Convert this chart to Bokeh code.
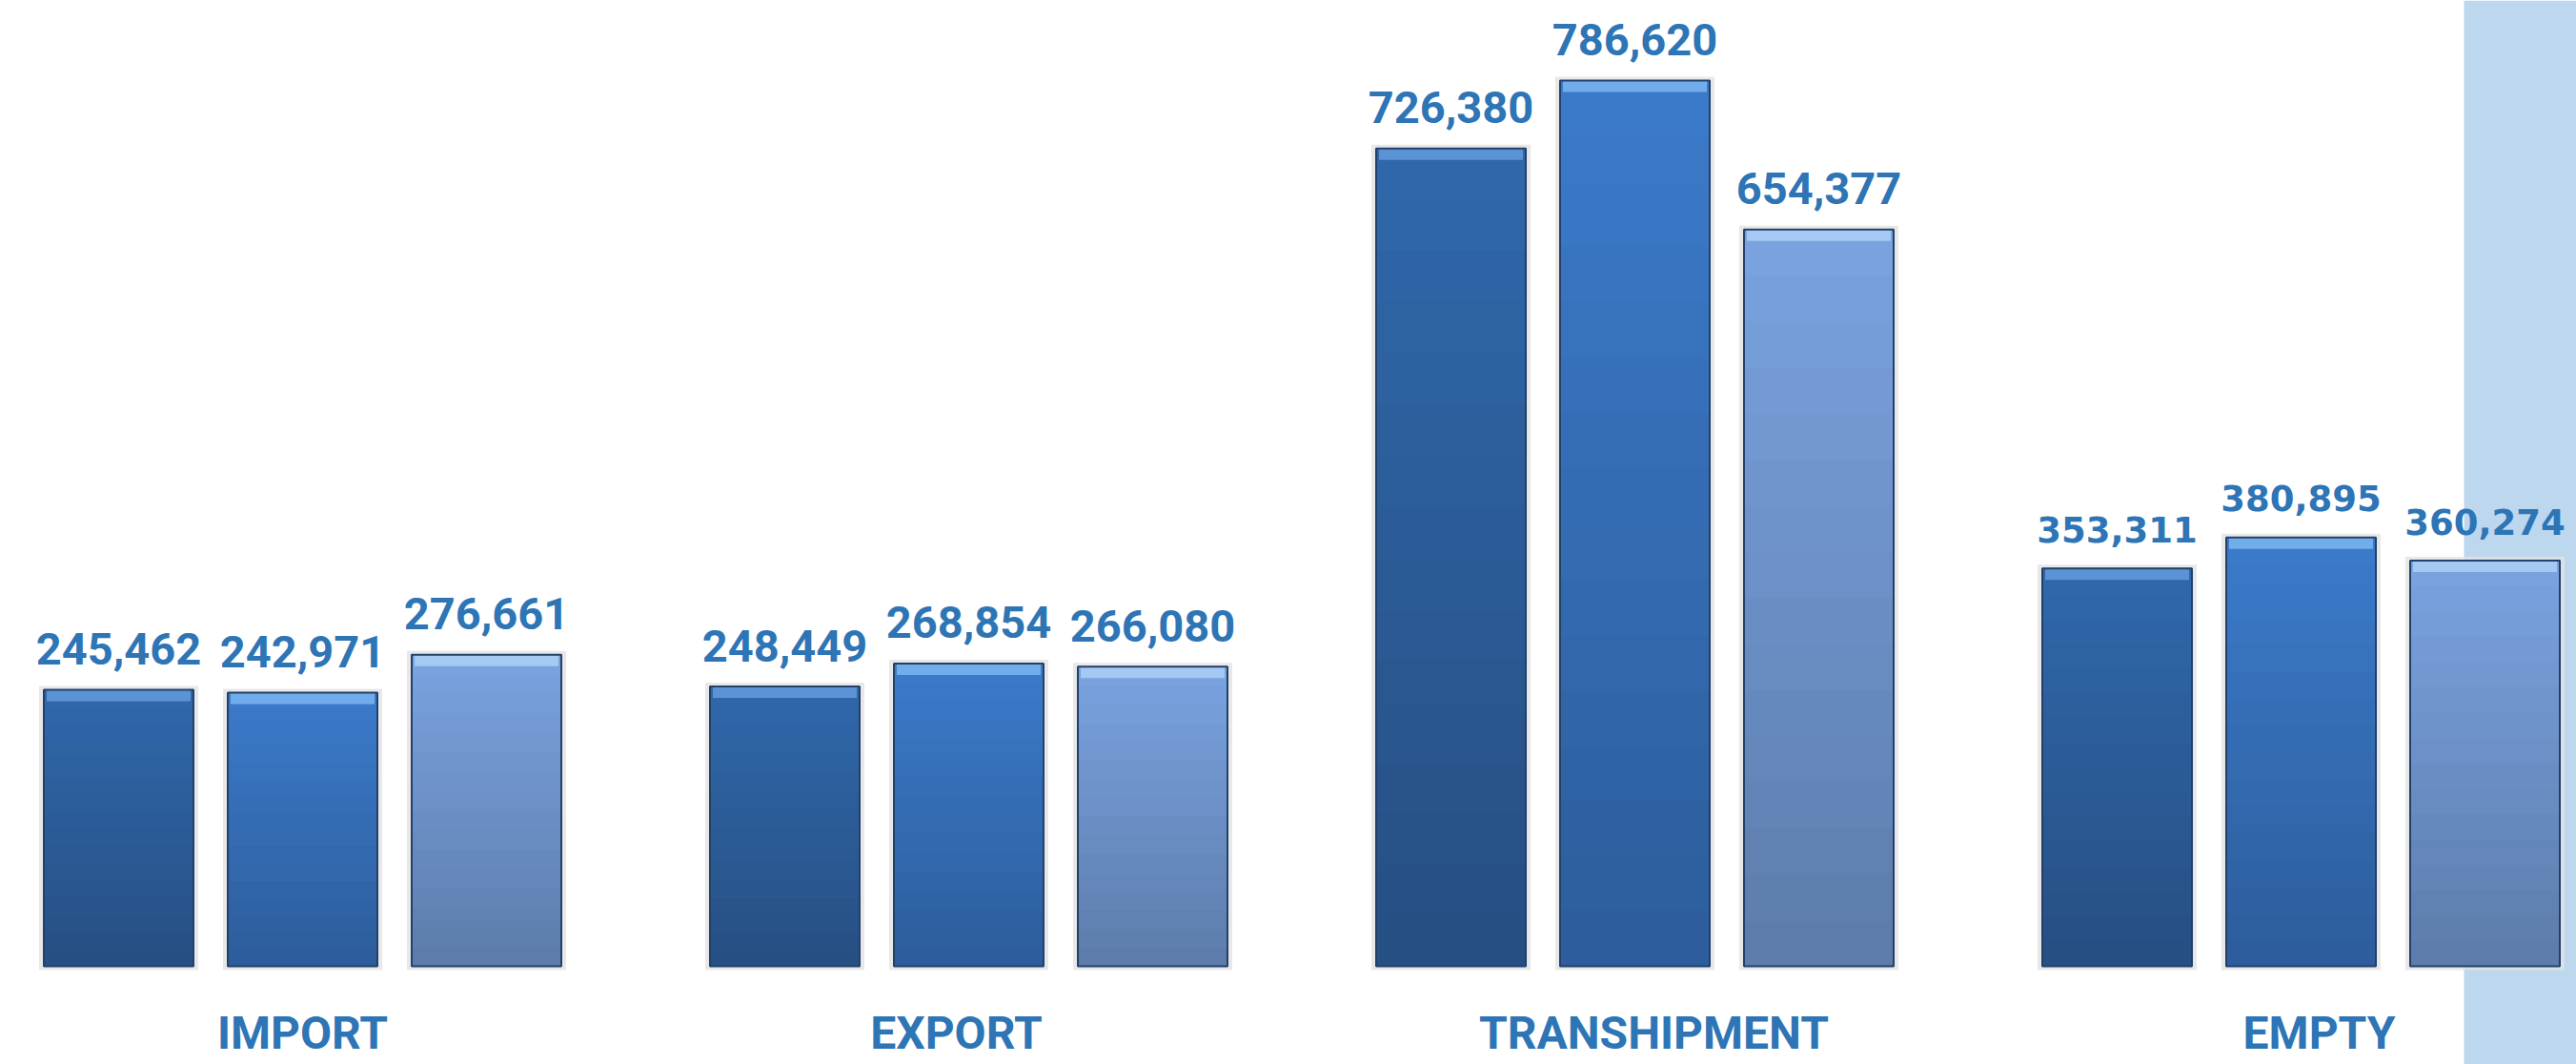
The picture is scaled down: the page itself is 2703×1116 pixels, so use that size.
from bokeh.plotting import figure
from bokeh.models import Range1d, ColumnDataSource, BoxAnnotation
from bokeh.core.properties import value
from bokeh.embed import file_html
from bokeh.resources import INLINE

# ---- data ----
categories = ["IMPORT", "EXPORT", "TRANSHIPMENT", "EMPTY"]
series_1 = [245462, 248449, 726380, 353311]
series_2 = [242971, 268854, 786620, 380895]
series_3 = [276661, 266080, 654377, 360274]
all_series = [series_1, series_2, series_3]

# ---- styles ----
grad_top = ["#3068AB", "#3B7BCB", "#7AA3E0"]
grad_bottom = ["#264F82", "#2D5C9A", "#5C7BAA"]
bar_bevel = ["#6098D8", "#78B2EE", "#A8CDF4"]
label_color = "#2E75B6"
band_color = "#BDD7EE"

# ---- geometry (pixel based) ----
W, H = 2703, 1116
GROUP_PX = 699.0            # pixels between group centres
BAR_PX = 157.0              # bar width
STEP_PX = 193.0             # centre-to-centre spacing of bars in a group
UNIT_PX = 0.001181          # pixels per data unit (vertical)
BASE_FROM_TOP = 1013.0      # px from top to zero line
FIRST_GROUP_PX = 317.0      # px of first group centre
BAND_LEFT_PX = 2585.0

x_start = -FIRST_GROUP_PX / GROUP_PX
x_end = x_start + W / GROUP_PX
y_end = BASE_FROM_TOP / UNIT_PX
y_start = -(H - BASE_FROM_TOP) / UNIT_PX

p = figure(width=W, height=H, output_backend="svg", toolbar_location=None,
           x_range=Range1d(x_start, x_end), y_range=Range1d(y_start, y_end),
           min_border=0, background_fill_color="white", border_fill_color="white")
p.axis.visible = False
p.grid.visible = False
p.outline_line_color = None

# light blue band on the right
p.add_layout(BoxAnnotation(left=x_start + BAND_LEFT_PX / GROUP_PX, fill_color=band_color,
                           fill_alpha=1.0, line_alpha=0, level="underlay"))


def hex2rgb(h):
    return tuple(int(h[k:k + 2], 16) for k in (1, 3, 5))


def mix(a, b, t):
    ra, rb = hex2rgb(a), hex2rgb(b)
    return "#%02x%02x%02x" % tuple(round(ra[k] + (rb[k] - ra[k]) * t) for k in range(3))


bw = BAR_PX / GROUP_PX
offsets = [-STEP_PX / GROUP_PX, 0.0, STEP_PX / GROUP_PX]
bevel_units = 12 / UNIT_PX
shadow_units = 4 / UNIT_PX
N_SLICES = 16

shadow = dict(l=[], r=[], b=[], t=[])
grad = dict(l=[], r=[], b=[], t=[], c=[])
outline = dict(l=[], r=[], b=[], t=[])
bevel = dict(l=[], r=[], b=[], t=[], c=[])
for j, ser in enumerate(all_series):
    for i, v in enumerate(ser):
        xc = i + offsets[j]
        l, r = xc - bw / 2, xc + bw / 2
        shadow["l"].append(l - 5 / GROUP_PX); shadow["r"].append(r + 5 / GROUP_PX)
        shadow["b"].append(-shadow_units); shadow["t"].append(v + shadow_units)
        for s in range(N_SLICES):
            grad["l"].append(l); grad["r"].append(r)
            grad["b"].append(v * s / N_SLICES); grad["t"].append(v * (s + 1) / N_SLICES)
            grad["c"].append(mix(grad_bottom[j], grad_top[j], (s + 0.5) / N_SLICES))
        outline["l"].append(l); outline["r"].append(r)
        outline["b"].append(0); outline["t"].append(v)
        bevel["l"].append(l + 3 / GROUP_PX); bevel["r"].append(r - 3 / GROUP_PX)
        bevel["b"].append(v - bevel_units); bevel["t"].append(v)
        bevel["c"].append(bar_bevel[j])

p.quad(left="l", right="r", bottom="b", top="t", source=ColumnDataSource(shadow),
       fill_color="#E2E2E2", fill_alpha=0.8, line_color=None)
p.quad(left="l", right="r", bottom="b", top="t", source=ColumnDataSource(grad),
       fill_color="c", line_color="c", line_width=1)
p.quad(left="l", right="r", bottom="b", top="t", source=ColumnDataSource(bevel),
       fill_color="c", fill_alpha=0.9, line_color=None)
p.quad(left="l", right="r", bottom="b", top="t", source=ColumnDataSource(outline),
       fill_alpha=0, line_color="#22406A", line_width=2)

# value labels
rows_main = dict(x=[], y=[], t=[])
rows_alt = dict(x=[], y=[], t=[])
for j, ser in enumerate(all_series):
    for i, v in enumerate(ser):
        target = rows_alt if categories[i] == "EMPTY" else rows_main
        target["x"].append(i + offsets[j])
        target["y"].append(v)
        target["t"].append(f"{v:,}")

p.text(x="x", y="y", text="t", source=ColumnDataSource(rows_main),
       text_font=value("Roboto"), text_font_style="bold", text_font_size="47px",
       text_color=label_color, text_align="center", text_baseline="middle",
       y_offset=-43)
p.text(x="x", y="y", text="t", source=ColumnDataSource(rows_alt),
       text_font=value("DejaVu Sans"), text_font_style="bold", text_font_size="37px",
       text_color=label_color, text_align="center", text_baseline="middle",
       y_offset=-41)

# category labels
label_shift_px = [0, -13, 20, 19]
p.text(x=[i + label_shift_px[i] / GROUP_PX for i in range(len(categories))],
       y=[0] * len(categories), text=categories,
       text_font=value("Roboto"), text_font_style="bold", text_font_size="48px",
       text_color=label_color, text_align="center", text_baseline="middle",
       y_offset=70)

open("out.html", "w").write(file_html(p, INLINE))
